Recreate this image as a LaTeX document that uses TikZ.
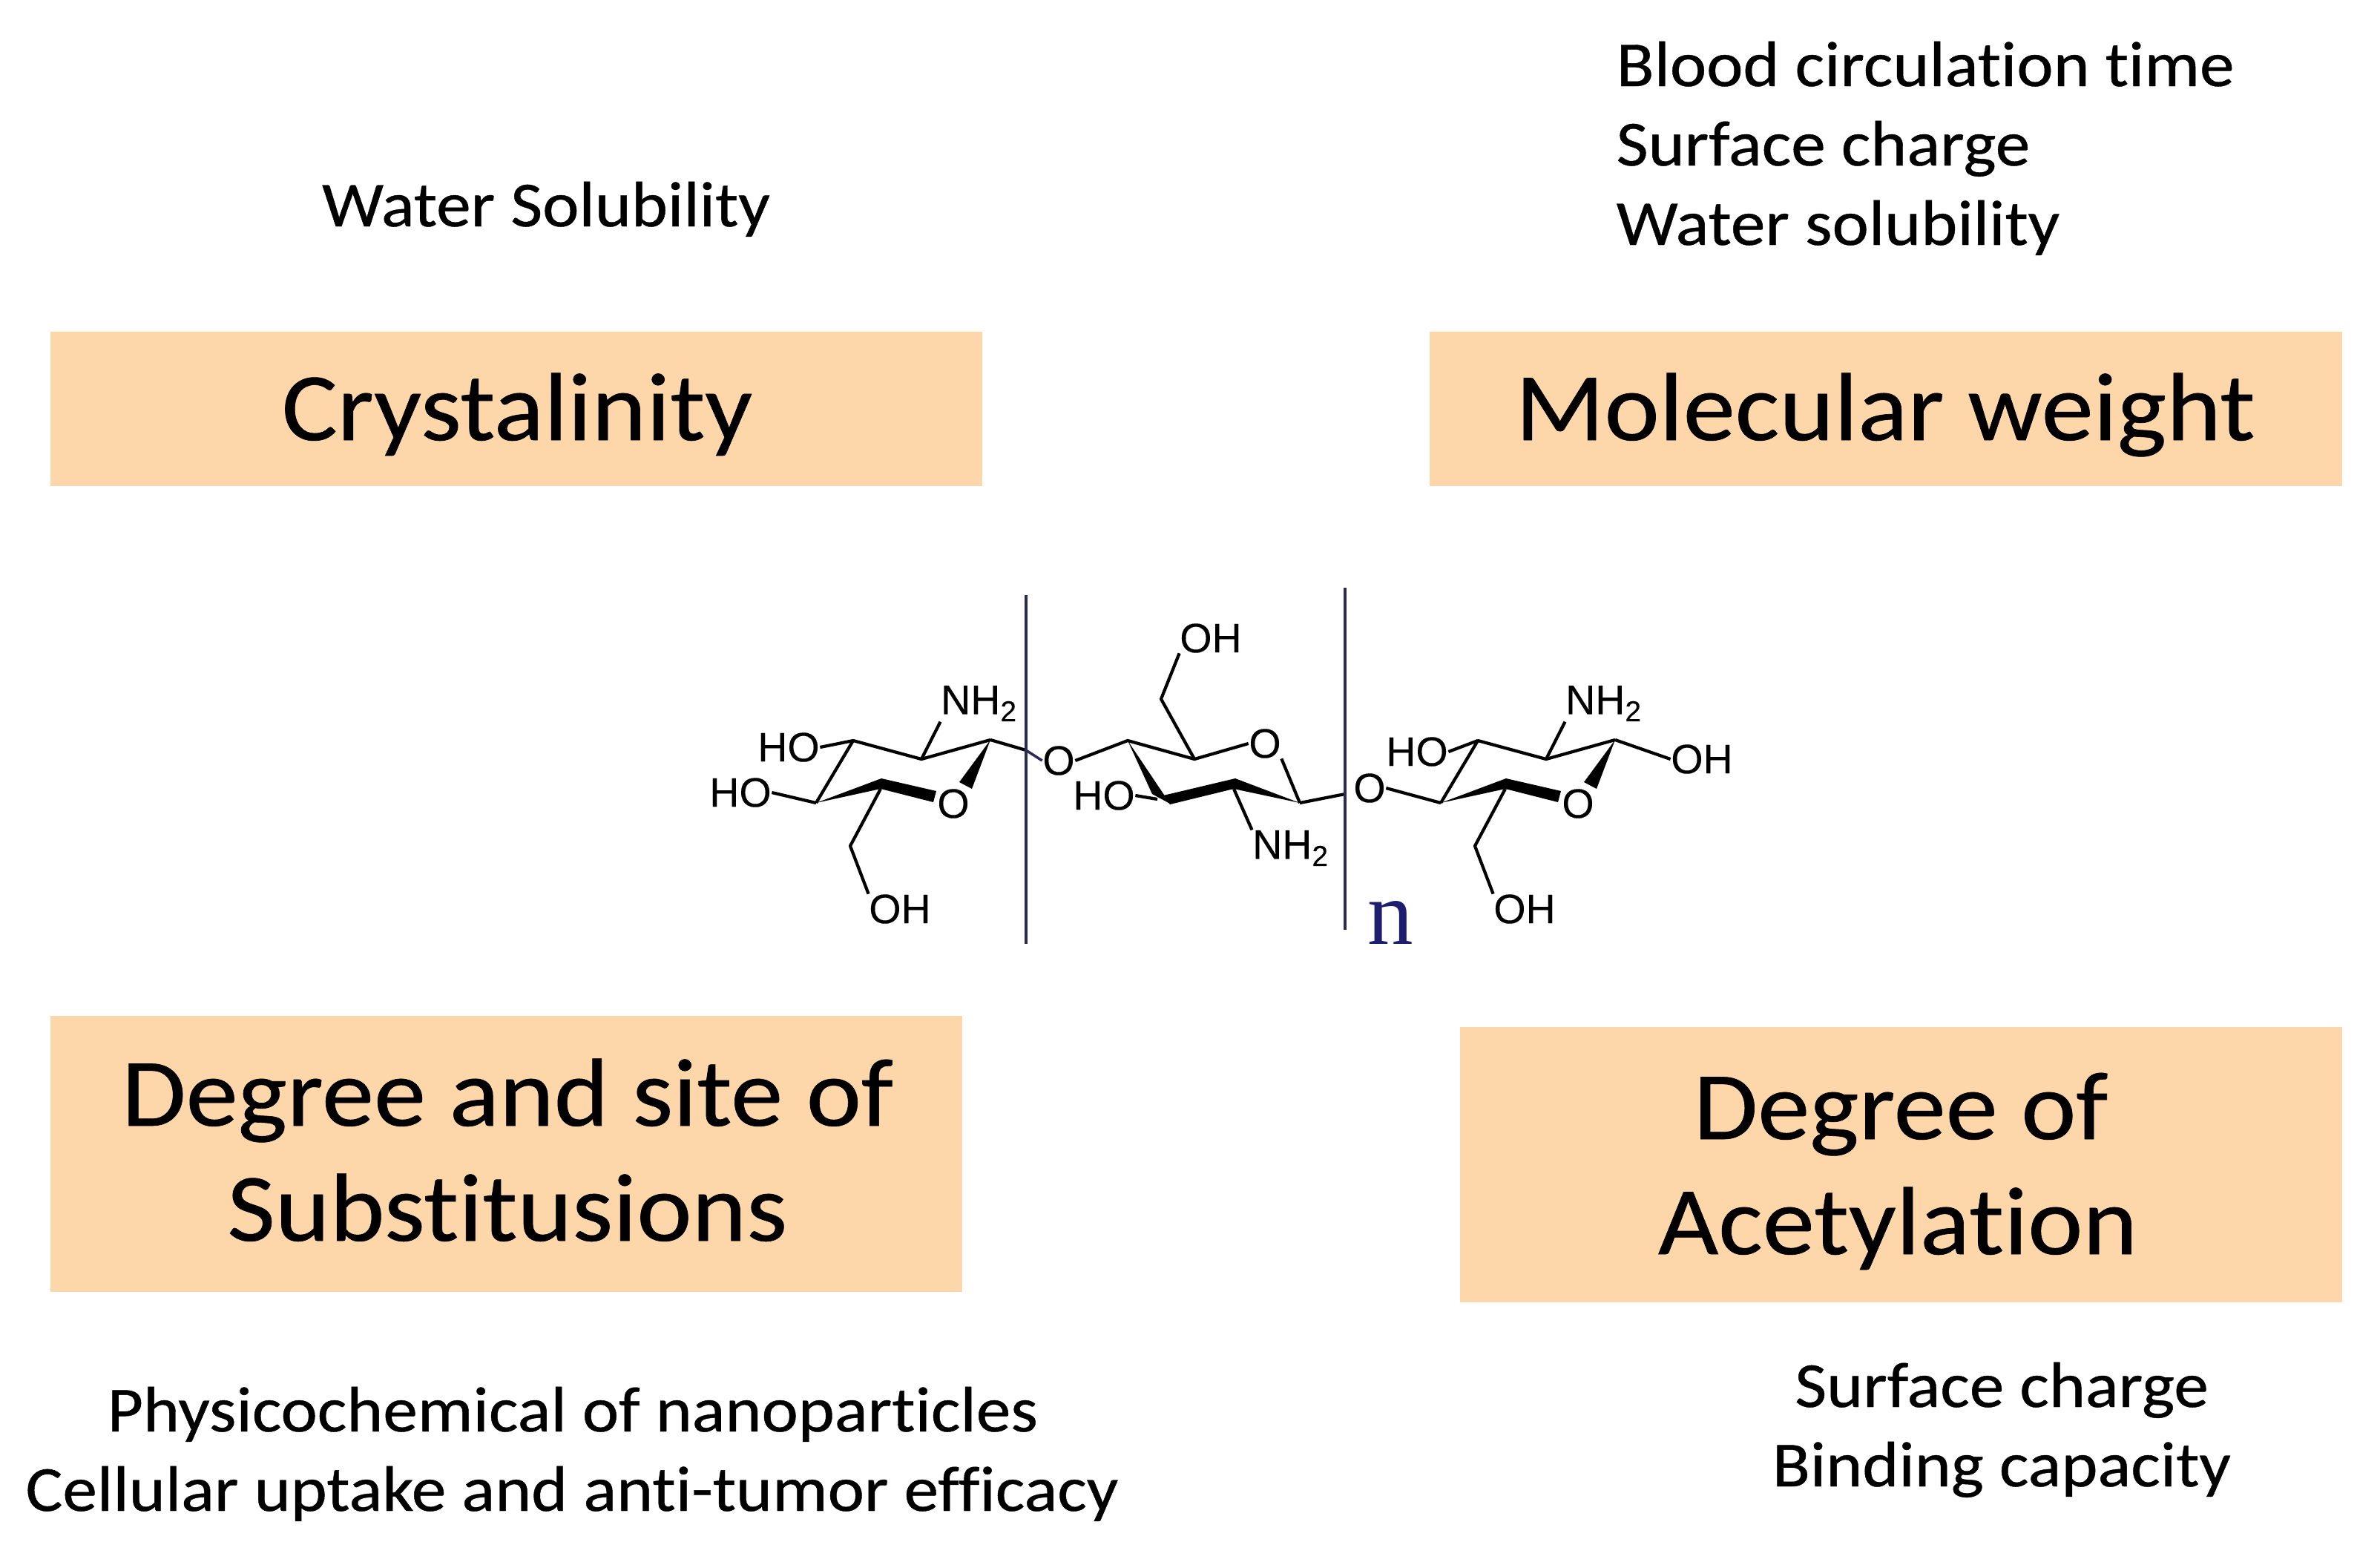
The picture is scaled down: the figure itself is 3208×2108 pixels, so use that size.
\documentclass[tikz,border=0pt]{standalone}
\usepackage{fontspec}
\setmainfont[FakeStretch=1.08,FakeBold=0.5,Ligatures=NoCommon]{Carlito}
\newfontfamily\molfont[FakeBold=0.2]{Liberation Sans}
\newfontfamily\unitfont{Liberation Serif}
\definecolor{boxfill}{HTML}{FDD6AA}
\definecolor{barnavy}{HTML}{2B2B55}
\definecolor{unitblue}{HTML}{1E1E6E}
\tikzset{
  title/.style={text=black,font=\fontsize{37}{44}\selectfont,anchor=base,inner sep=0pt},
  note/.style={text=black,font=\fontsize{24.6}{29}\selectfont,anchor=base,inner sep=0pt},
  atom/.style={text=black,font=\molfont\fontsize{15.8}{18}\selectfont,inner sep=0pt},
  bond/.style={black,line width=1.2pt,line join=round},
  bar/.style={barnavy,line width=1pt},
}
\begin{document}
\begin{tikzpicture}[x=0.01cm,y=-0.01cm]
\useasboundingbox (0,0) rectangle (3208,2108);
% boxes
\fill[boxfill] (68,447) rectangle (1324,655);
\fill[boxfill] (1927,447) rectangle (3157,655);
\fill[boxfill] (68,1369) rectangle (1297,1741);
\fill[boxfill] (1968,1384) rectangle (3157,1755);
\node[title] (crystal) at (697,593) {Crystalinity};
\node[title] (weight) at (2541,593) {Molecular weight};
\node[title] (degsite1) at (684,1517) {Degree and site of};
\node[title] (degsite2) at (684,1672) {Substitusions};
\node[title] (acetyl1) at (2562,1535) {Degree of};
\node[title] (acetyl2) at (2558,1690) {Acetylation};
% notes
\node[note] (solub) at (736,305) {Water Solubility};
\node[note,anchor=base west] (blood) at (2178,116) {Blood circulation time};
\node[note,anchor=base west] (charge) at (2178,223) {Surface charge};
\node[note,anchor=base west] (water) at (2178,330) {Water solubility};
\node[note] (physico) at (772,1929) {Physicochemical of nanoparticles};
\node[note] (uptake) at (771,2036) {Cellular uptake and anti-tumor efficacy};
\node[note] (surface) at (2698,1896) {Surface charge};
\node[note] (binding) at (2698,2003) {Binding capacity};
% outer rings
\foreach \r/\dx in {a/0,c/842}{
  \coordinate (\r1) at (1100+\dx,1082);
  \coordinate (\r2) at (1150+\dx,998);
  \coordinate (\r3) at (1242+\dx,1023);
  \coordinate (\r4) at (1335+\dx,997);
  \coordinate (\r5) at (1146+\dx,1140);
  \coordinate (\r6) at (1187+\dx,1063);
  \node[atom] (\r O) at (1285+\dx,1083) {O};
  \node[atom] (\r N) at (1320+\dx,948) {NH\textsubscript{2}};
  \node[atom] (\r H) at (1213+\dx,1225) {OH};
  \draw[bond] (\r1) -- (\r2) -- (\r3) -- (\r4);
  \draw[bond] (\r6) -- (\r5) -- (\r H.north west);
  \draw[bond] (\r3) -- (\r N.south west);
  \fill (\r1) -- (1188+\dx,1049) -- (1262+\dx,1066) -- (1258+\dx,1081) -- (\r6) -- cycle;
  \fill (\r4) -- (1293+\dx,1054) -- (1310+\dx,1063) -- cycle;
}
% middle ring
\coordinate (b1) at (1520,998);
\coordinate (b2) at (1610,1023);
\coordinate (b3) at (1752,1082);
\coordinate (b4) at (1565,942);
\coordinate (b5) at (1663,1063);
\node[atom] (bO) at (1705,1002) {O};
\node[atom] (bL) at (1427,1025) {O};
\node[atom] (bH) at (1488,1072) {HO};
\node[atom] (bT) at (1632,860) {OH};
\node[atom] (bN) at (1740,1143) {NH\textsubscript{2}};
\draw[bond] (bL.east) -- (b1) -- (b2) -- (bO.west);
\draw[bond] (bO.south east) -- (b3);
\draw[bond] (b2) -- (b4) -- (bT.south west);
\draw[bond] (b5) -- (bN.north west);
\draw[bond] (bH.east) -- (1560,1077);
\fill (b1) -- (1553,1070) -- (1577,1083) -- cycle;
\fill (1568,1072) -- (1665,1049) -- (b3) -- (b5) -- (1577,1084) -- cycle;
% labels of the outer rings
\node[atom] (aHa) at (1063,1007) {HO};
\node[atom] (aHb) at (998,1068) {HO};
\draw[bond] (aHa.east) -- (a2);
\draw[bond] (aHb.east) -- (a1);
\node[atom] (cHa) at (1910,1013) {HO};
\node[atom] (cL) at (1846,1062) {O};
\node[atom] (cE) at (2294,1023) {OH};
\draw[bond] (cHa.east) -- (c2);
\draw[bond] (cL.east) -- (c1);
\draw[bond] (c4) -- (cE.west);
\draw[bond] (a4) -- (1383,1011);
\draw[bond] (b3) -- (1813,1070);
% repeat unit
\coordinate (bar1a) at (1383,802);
\coordinate (bar1b) at (1383,1272);
\coordinate (bar2a) at (1813,792);
\coordinate (bar2b) at (1813,1253);
\draw[bar] (bar1a) -- (bar1b);
\draw[bar] (bar2a) -- (bar2b);
\draw[bar] (1383,1011) -- (bL.west);
\node[text=unitblue,font=\unitfont\fontsize{35}{40}\selectfont,anchor=base,inner sep=0pt] (unit) at (1874,1272) {n};
\end{tikzpicture}
\end{document}
